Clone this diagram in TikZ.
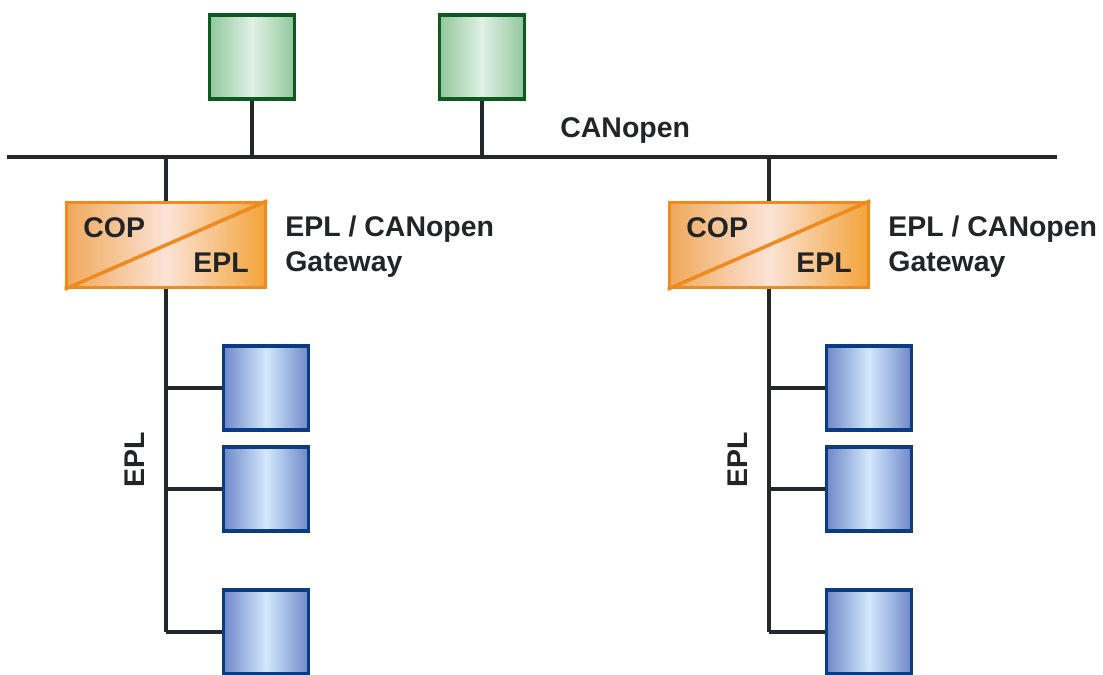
\documentclass[tikz,border=0pt]{standalone}
\usepackage{fontspec}
\setmainfont{Liberation Sans}
\usetikzlibrary{positioning,calc}
\definecolor{linegray}{HTML}{25282A}
\definecolor{textgray}{HTML}{222426}
\definecolor{grnedge}{HTML}{0B5A1F}
\definecolor{grnside}{HTML}{92C79C}
\definecolor{grnmid}{HTML}{E0F0E5}
\definecolor{bluedge}{HTML}{0A3C84}
\definecolor{bluside}{HTML}{6F88C8}
\definecolor{blumid}{HTML}{D4E8FB}
\definecolor{orgedge}{HTML}{F08A1E}
\definecolor{orgleft}{HTML}{F0A85A}
\definecolor{orgmid}{HTML}{FBE3D6}
\definecolor{orgright}{HTML}{F3A43A}

\begin{document}
\begin{tikzpicture}[x=0.02cm, y=-0.02cm,
    wire/.style={draw=linegray, line width=2.3pt},
    txt/.style={font=\fontsize{16.2}{19}\selectfont\bfseries, text=textgray, inner sep=0pt},
    greenbox/.style={draw=grnedge, line width=2pt, minimum width=1.7cm, minimum height=1.68cm,
        left color=grnside, right color=grnside, middle color=grnmid},
    bluebox/.style={draw=bluedge, line width=2pt, minimum width=1.7cm, minimum height=1.68cm,
        left color=bluside, right color=bluside, middle color=blumid},
    gwbox/.style={draw=orgedge, line width=2pt, minimum width=3.98cm, minimum height=1.7cm,
        left color=orgleft, right color=orgright, middle color=orgmid}]
    \useasboundingbox (0,0) rectangle (1103,675);
    \clip (0,0) rectangle (1103,675);
    % CANopen 总线
    \coordinate (busL) at (7,157);
    \coordinate (busR) at (1057,157);
    \draw[wire] (busL) -- (busR);
    \node[txt, anchor=base west] (canlbl) at (560,138) {CANopen};
    % CANopen 设备
    \node[greenbox] (g1) at (252,57) {};
    \node[greenbox] (g2) at (482,57) {};
    \draw[wire] (g1.south) -- (g1.south |- busL);
    \draw[wire] (g2.south) -- (g2.south |- busL);
    % 两个网关及 EPL 分支
    \foreach \i/\dx in {1/0, 2/603} {
        \node[gwbox] (gw\i) at (166+\dx,245) {};
        \draw[orgedge, line width=2pt] (gw\i.south west) -- (gw\i.north east);
        \node[txt, anchor=base west] (cop\i) at (83+\dx,238) {COP};
        \node[txt, anchor=base east] (epl\i) at (249+\dx,273) {EPL};
        \node[txt, anchor=base west] (gwa\i) at (285+\dx,237) {EPL / CANopen};
        \node[txt, anchor=base west] (gwb\i) at (285+\dx,272) {Gateway};
        \draw[wire] (gw\i.north |- busL) -- (gw\i.north);
        % EPL 设备
        \foreach \j/\by in {1/388, 2/489, 3/632} {
            \node[bluebox] (b\i\j) at (266+\dx,\by) {};
            \draw[wire] (b\i\j.west) -- (b\i\j.west -| gw\i.south);
        }
        \draw[wire] (gw\i.south) -- (b\i3.west -| gw\i.south);
        \node[txt, rotate=90] (eplv\i) at (135+\dx,460) {EPL};
    }
\end{tikzpicture}
\end{document}
